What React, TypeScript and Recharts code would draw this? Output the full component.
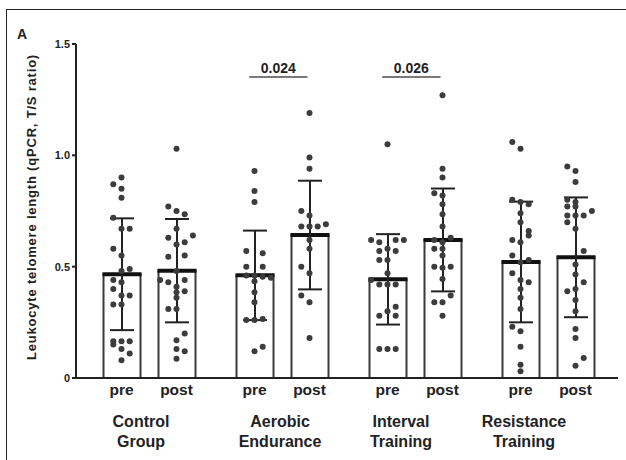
import { ComposedChart, Bar, ErrorBar, Scatter, XAxis, YAxis, ReferenceLine } from 'recharts';

const GROUPS = ['Control Group', 'Aerobic Endurance', 'Interval Training', 'Resistance Training'];
const PHASES = ['pre', 'post'];
const PRE_MEAN = [0.466, 0.461, 0.443, 0.521];
const PRE_SD = [0.251, 0.201, 0.203, 0.271];
const POST_MEAN = [0.482, 0.642, 0.62, 0.542];
const POST_SD = [0.232, 0.244, 0.231, 0.269];

// individual participants: [value, swarm column]
const CONTROL_PRE = [
  [0.9, 0], [0.87, -1], [0.85, 0], [0.81, 0], [0.72, -1], [0.67, 0], [0.67, 1], [0.58, -1], [0.55, 0],
  [0.49, 1], [0.48, 0], [0.44, -1], [0.43, 0], [0.4, -1], [0.37, 0], [0.37, 1], [0.33, -1], [0.33, 0],
  [0.165, -1], [0.165, 0], [0.165, 1], [0.15, -1], [0.13, 0], [0.11, 1], [0.08, 0],
];
const CONTROL_POST = [
  [1.03, 0], [0.77, -1], [0.75, 0], [0.735, 1], [0.67, 0], [0.63, -1], [0.64, 2], [0.61, 1], [0.6, 0],
  [0.545, -1], [0.55, 1], [0.48, 0], [0.44, -2], [0.43, -1], [0.44, 1], [0.41, 0], [0.39, 1], [0.385, 0],
  [0.36, 0], [0.31, -1], [0.31, 0], [0.2, 1], [0.17, 0], [0.13, 0], [0.12, 1], [0.086, 0],
];
const AEROBIC_PRE = [
  [0.93, 0], [0.84, 0], [0.79, 0], [0.57, -1], [0.56, 1], [0.5, -1], [0.5, 1], [0.46, -1], [0.46, 0],
  [0.455, 1], [0.45, 2], [0.435, 0], [0.385, 0], [0.34, 0], [0.26, -1], [0.26, 0], [0.265, 1], [0.12, 0], [0.14, 1],
];
const AEROBIC_POST = [
  [1.19, 0], [0.99, 0], [0.94, 0], [0.75, -1], [0.73, 0], [0.68, -1], [0.68, 0], [0.68, 1], [0.69, 2],
  [0.62, 0], [0.58, 0], [0.5, -1], [0.47, 0], [0.37, -1], [0.34, 0], [0.18, 0],
];
const INTERVAL_PRE = [
  [1.05, 0], [0.62, -2], [0.61, -1], [0.62, 1], [0.62, 2], [0.57, -1], [0.58, 0], [0.57, 1], [0.53, -1],
  [0.53, 0], [0.47, 0], [0.44, -2], [0.42, -1], [0.42, 0], [0.42, 1], [0.32, 1], [0.3, 0], [0.28, -1],
  [0.28, 1], [0.13, -1], [0.13, 0], [0.13, 1],
];
const INTERVAL_POST = [
  [1.27, 0], [0.94, 0], [0.9, 0], [0.83, -1], [0.82, 0], [0.78, 0], [0.735, 0], [0.68, 0], [0.63, 1],
  [0.62, -1], [0.61, 0], [0.58, -1], [0.58, 0], [0.55, 0], [0.5, -1], [0.495, 0], [0.5, 1], [0.445, 0],
  [0.37, 1], [0.34, -1], [0.34, 0], [0.28, 0],
];
const RESISTANCE_PRE = [
  [1.06, -1], [1.03, 0], [0.8, -1], [0.79, 0], [0.78, 1], [0.74, 0], [0.7, 0], [0.66, 1], [0.64, 1],
  [0.62, -1], [0.61, 0], [0.55, -1], [0.52, 0], [0.53, 1], [0.47, -1], [0.44, 0], [0.43, 1], [0.4, 0],
  [0.36, 0], [0.31, 0], [0.23, -1], [0.21, 0], [0.14, 0], [0.06, 0], [0.03, 0],
];
const RESISTANCE_POST = [
  [0.95, -1], [0.93, 0], [0.88, 0], [0.8, -1], [0.79, 0], [0.77, -1], [0.77, 0], [0.75, 2], [0.73, -1],
  [0.73, 0], [0.73, 1], [0.7, -1], [0.67, 0], [0.57, 1], [0.51, 0], [0.465, 0], [0.43, 1], [0.39, -1],
  [0.4, 0], [0.35, 0], [0.3, 0], [0.22, 0], [0.18, 0], [0.09, 1], [0.055, 0],
];
const PRE_DOTS = [CONTROL_PRE, AEROBIC_PRE, INTERVAL_PRE, RESISTANCE_PRE];
const POST_DOTS = [CONTROL_POST, AEROBIC_POST, INTERVAL_POST, RESISTANCE_POST];

const Y_TICKS = [0, 0.5, 1, 1.5];
const Y_LABEL = 'Leukocyte telomere length (qPCR, T/S ratio)';
const SIG_GROUP = [1, 2];
const SIG_P = ['0.024', '0.026'];
const SIG_LEVEL = 1.352;

const INK = '#222';
const FONT = '"Liberation Sans", Arial, sans-serif';
const BAR_SIZE = 37;
const BAR_GAP = 18;
const BAND = 133;
const PHASE_SHIFT = (BAR_SIZE + BAR_GAP) / 2 / BAND;
const COL_STEP = 8.2 / BAND;
// group captions sit a little left of the group centre in the original
const GROUP_LABEL_DX: Record<string, number> = {
  'Control Group': -8,
  'Aerobic Endurance': -2,
  'Interval Training': -14,
  'Resistance Training': -24,
};

const chartData = GROUPS.map((group, i) => ({
  group,
  pre: PRE_MEAN[i],
  preSd: PRE_SD[i],
  post: POST_MEAN[i],
  postSd: POST_SD[i],
}));

const dots = GROUPS.flatMap((_, g) => [
  ...PRE_DOTS[g].map(([v, c]) => ({ x: g + 0.5 - PHASE_SHIFT + c * COL_STEP, v })),
  ...POST_DOTS[g].map(([v, c]) => ({ x: g + 0.5 + PHASE_SHIFT + c * COL_STEP, v })),
]);

const MeanBar = (props: any) => {
  const { x, y, width, height } = props;
  return (
    <g>
      <rect x={x} y={y} width={width} height={height} fill="#fff" stroke="#3a3a3a" strokeWidth={2} />
      <line x1={x - 1} x2={x + width + 1} y1={y} y2={y} stroke="#111" strokeWidth={4} />
    </g>
  );
};

const Dot = (props: any) => <circle cx={props.cx} cy={props.cy} r={3} fill="#3c3c3c" />;

const GroupTick = ({ x, y, payload }: any) => {
  const name = String(payload.value);
  const [l1, l2] = name.split(' ');
  const off = (BAR_SIZE + BAR_GAP) / 2;
  const dx = GROUP_LABEL_DX[name] ?? 0;
  const st = { fontFamily: FONT, fontWeight: 700, fontSize: 15.5, fill: INK };
  const gs = { ...st, fontSize: 16 };
  return (
    <g transform={`translate(${x},${y})`}>
      <text x={-off} y={16.5} textAnchor="middle" style={st}>{PHASES[0]}</text>
      <text x={off} y={16.5} textAnchor="middle" style={st}>{PHASES[1]}</text>
      <text x={dx} y={49} textAnchor="middle" style={gs}>{l1}</text>
      <text x={dx} y={68.5} textAnchor="middle" style={gs}>{l2}</text>
    </g>
  );
};

const YLabel = ({ viewBox }: any) => {
  const cx = viewBox.x + 31;
  const cy = viewBox.y + viewBox.height / 2 - 4;
  return (
    <text
      transform={`translate(${cx},${cy}) rotate(-90)`}
      textAnchor="middle"
      dominantBaseline="central"
      style={{ fontFamily: FONT, fontWeight: 700, fontSize: 13, letterSpacing: 0.8, fill: INK }}
    >
      {Y_LABEL}
    </text>
  );
};

export default function App() {
  return (
    <div style={{ position: 'absolute', left: 0, top: 0, width: 626, height: 460, background: '#fff' }}>
      <div style={{ position: 'absolute', left: 6, top: 9, right: 0, height: 0, borderTop: '1.5px solid #222' }} />
      <div style={{ position: 'absolute', left: 6, top: 9, bottom: 0, width: 0, borderLeft: '1.5px solid #222' }} />
      <div style={{ position: 'absolute', left: 17, top: 26, fontFamily: FONT, fontWeight: 700, fontSize: 14, color: INK }}>A</div>
      <ComposedChart
        width={626}
        height={460}
        data={chartData}
        margin={{ top: 44, right: 8, bottom: 10, left: 0 }}
        barGap={BAR_GAP}
        style={{ position: 'absolute', left: 0, top: 0 }}
      >
        <XAxis
          xAxisId="c"
          dataKey="group"
          type="category"
          height={72}
          padding={{ left: 6.5, right: 3.5 }}
          axisLine={{ stroke: INK, strokeWidth: 2 }}
          tickLine={false}
          tickSize={0}
          tickMargin={0}
          interval={0}
          tick={<GroupTick />}
        />
        <XAxis xAxisId="n" dataKey="x" type="number" domain={[0, 4]} padding={{ left: 6.5, right: 3.5 }} hide allowDataOverflow />
        <YAxis
          width={76}
          domain={[0, 1.5]}
          ticks={Y_TICKS}
          interval={0}
          tickSize={4}
          tickMargin={2}
          axisLine={{ stroke: INK, strokeWidth: 2 }}
          tickLine={{ stroke: INK, strokeWidth: 2 }}
          tick={{ fontFamily: FONT, fontWeight: 700, fontSize: 11, fill: INK }}
          tickFormatter={(v: number) => (v === 0 ? '0' : v.toFixed(1))}
          label={{ content: <YLabel /> }}
        />
        <Bar xAxisId="c" dataKey="pre" barSize={BAR_SIZE} shape={<MeanBar />} isAnimationActive={false}>
          <ErrorBar dataKey="preSd" width={12} strokeWidth={2} stroke={INK} direction="y" isAnimationActive={false} />
        </Bar>
        <Bar xAxisId="c" dataKey="post" barSize={BAR_SIZE} shape={<MeanBar />} isAnimationActive={false}>
          <ErrorBar dataKey="postSd" width={12} strokeWidth={2} stroke={INK} direction="y" isAnimationActive={false} />
        </Bar>
        <Scatter xAxisId="n" data={dots} dataKey="v" shape={<Dot />} isAnimationActive={false} />
        {SIG_GROUP.map((g, i) => (
          <ReferenceLine
            key={g}
            xAxisId="n"
            segment={[
              { x: g + 0.5 - PHASE_SHIFT - 0.04, y: SIG_LEVEL },
              { x: g + 0.5 + PHASE_SHIFT - 0.015, y: SIG_LEVEL },
            ]}
            stroke="#7a7a7a"
            strokeWidth={2}
            label={{ value: SIG_P[i], position: 'top', offset: 4, fill: INK, fontSize: 14, fontWeight: 700, fontFamily: FONT }}
          />
        ))}
      </ComposedChart>
    </div>
  );
}
